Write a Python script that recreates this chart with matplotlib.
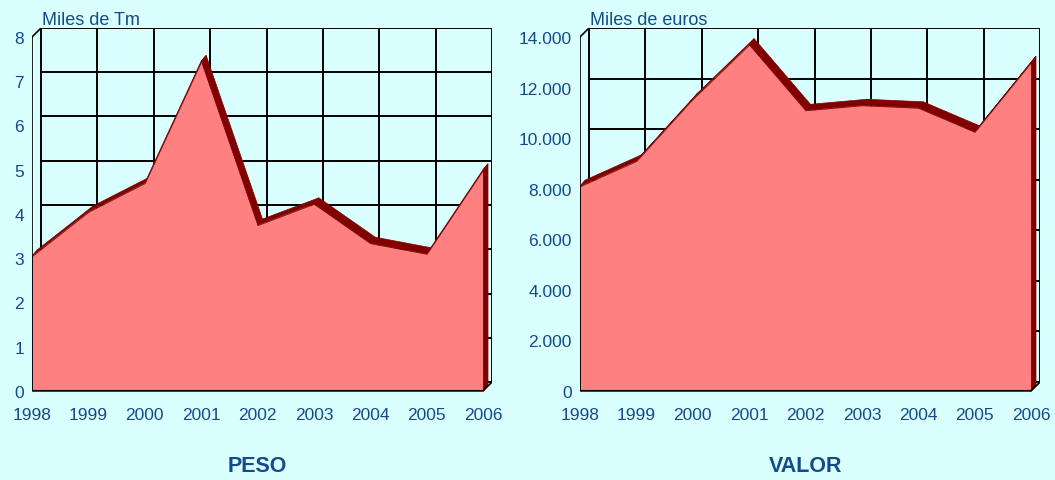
import numpy as np
import matplotlib
matplotlib.use("Agg")
import matplotlib.pyplot as plt

plt.rcParams['font.family'] = ['Liberation Sans', 'DejaVu Sans']

# Data
years = [1998, 1999, 2000, 2001, 2002, 2003, 2004, 2005, 2006]
peso = [3.05, 4.05, 4.7, 7.45, 3.75, 4.23, 3.34, 3.1, 5.0]        # miles de Tm
valor = [8100, 9100, 11550, 13700, 11100, 11300, 11200, 10250, 13000]  # miles de euros

peso_ticks = [0, 1, 2, 3, 4, 5, 6, 7, 8]
peso_ticklabels = ['0', '1', '2', '3', '4', '5', '6', '7', '8']
valor_ticks = [0, 2000, 4000, 6000, 8000, 10000, 12000, 14000]
valor_ticklabels = ['0', '2.000', '4.000', '6.000', '8.000', '10.000', '12.000', '14.000']

BG = '#D9FFFF'
FILL = '#FF8080'
DARK = '#800000'
TXT = '#154A88'

W, H = 1055, 481
fig = plt.figure(figsize=(W / 100, H / 100), dpi=100, facecolor=BG)

# pixel geometry of the pseudo 3D box
FRONT_W, FRONT_H = 451, 354   # front plane size in px
WALL = 9                      # depth of the back wall in px
SER_X, SER_Y = 5, 6           # depth of the area series in px


def draw_panel(left_px, vals, yticks, ylabels, unit, title):
    ax = fig.add_axes([left_px / W, (H - 392) / H,
                       (FRONT_W + WALL) / W, (FRONT_H + WALL) / H])
    ax.set_facecolor('none')
    x0, x1 = years[0], years[-1]
    y0, y1 = yticks[0], yticks[-1]
    px_x = (x1 - x0) / FRONT_W     # data units per pixel
    px_y = (y1 - y0) / FRONT_H
    ddx, ddy = WALL * px_x, WALL * px_y
    sdx, sdy = SER_X * px_x, SER_Y * px_y
    ax.set_xlim(x0, x1 + ddx)
    ax.set_ylim(y0, y1 + ddy)

    # back wall grid
    for yv in yticks:
        ax.plot([x0 + ddx, x1 + ddx], [yv + ddy, yv + ddy], color='black', lw=1.4, zorder=1)
    for xv in years:
        ax.plot([xv + ddx, xv + ddx], [y0 + ddy, y1 + ddy], color='black', lw=1.4, zorder=1)

    # top surface of the area and right side face
    for i in range(len(years) - 1):
        xa, xb = years[i], years[i + 1]
        ya, yb = vals[i], vals[i + 1]
        ax.fill([xa, xb, xb + sdx, xa + sdx], [ya, yb, yb + sdy, ya + sdy],
                color=DARK, lw=0.5, zorder=2)
    ax.fill([x1, x1, x1 + sdx, x1 + sdx], [vals[-1], y0, y0 + sdy, vals[-1] + sdy],
            color=DARK, lw=0.5, zorder=2)

    # front face
    ax.fill_between(years, vals, y0, facecolor=FILL, edgecolor=DARK, lw=0.6, zorder=3)

    # front axis lines
    ax.plot([x0, x0], [y0, y1], color='black', lw=1.2, zorder=4)
    ax.plot([x0, x0 + ddx], [y1, y1 + ddy], color='black', lw=1.2, zorder=4)
    ax.plot([x0, x1], [y0, y0], color='black', lw=1.5, zorder=4)
    ax.plot([x1, x1 + ddx], [y0, y0 + ddy], color='black', lw=1.2, zorder=4)

    for s in ax.spines.values():
        s.set_visible(False)
    ax.set_xticks(years)
    ax.set_xticklabels([str(y) for y in years])
    ax.set_yticks(yticks)
    ax.set_yticklabels(ylabels)
    ax.tick_params(axis='x', length=0, pad=11.5, labelsize=12.5, labelcolor=TXT)
    ax.tick_params(axis='y', length=0, pad=5.8, labelsize=12.5, labelcolor=TXT)

    ax.annotate(unit, xy=(x0 + ddx, 1), xycoords=('data', 'axes fraction'),
                xytext=(1, 3), textcoords='offset points',
                ha='left', va='baseline', fontsize=13, color=TXT)
    cx = left_px + FRONT_W / 2
    fig.text(cx / W, 1 - 466 / H, title, ha='center', va='center',
             fontsize=15.5, fontweight='bold', color=TXT)
    return ax


draw_panel(32, peso, peso_ticks, peso_ticklabels, 'Miles de Tm', 'PESO')
draw_panel(580, valor, valor_ticks, valor_ticklabels, 'Miles de euros', 'VALOR')

fig.savefig('out.png', dpi=100, facecolor=BG)
